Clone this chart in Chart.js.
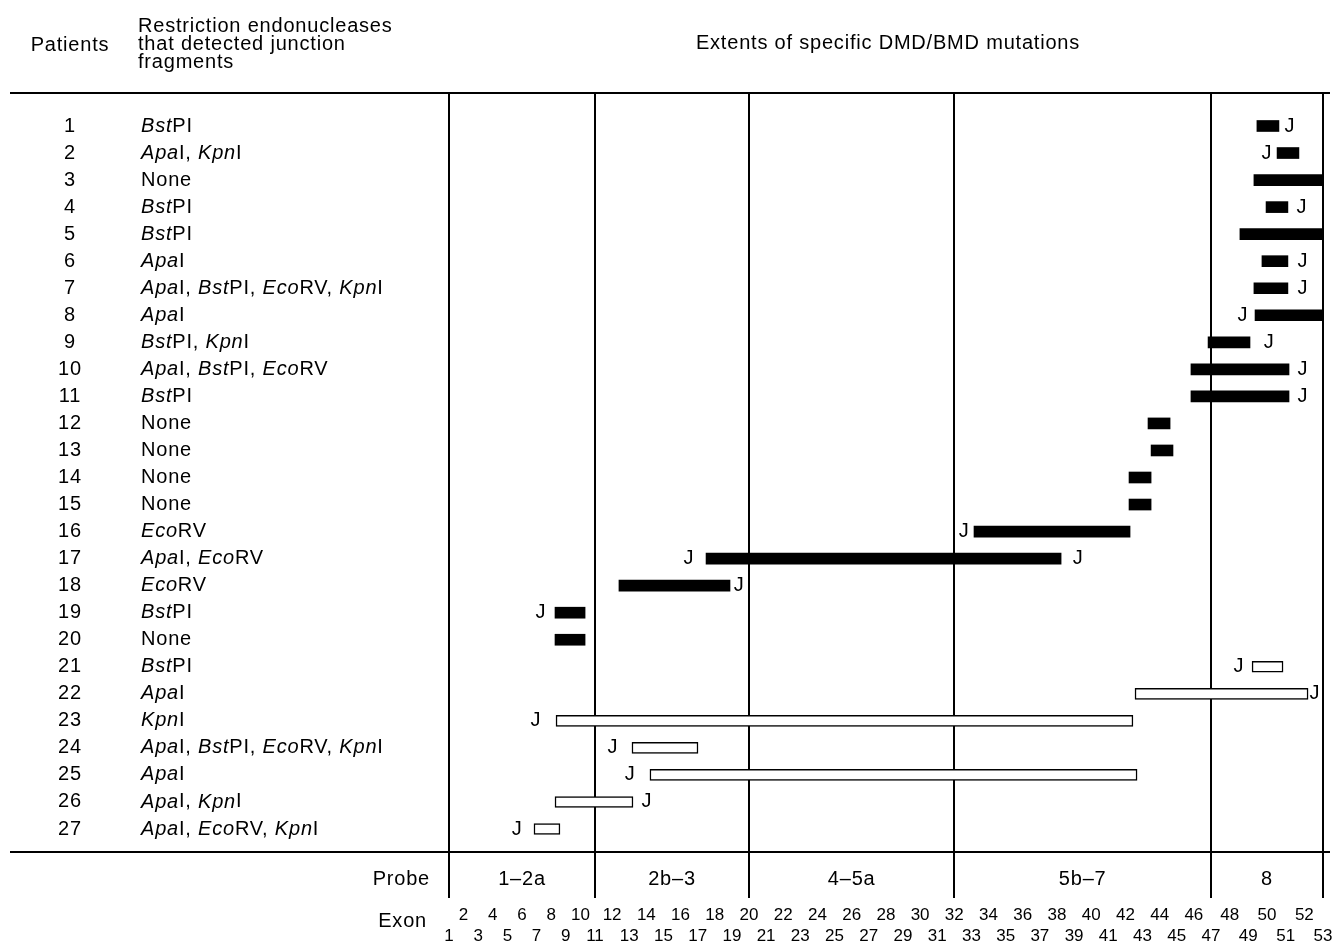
<!DOCTYPE html>
<html>
<head>
<meta charset="utf-8">
<script src="https://cdn.jsdelivr.net/npm/chart.js@4.4.1/dist/chart.umd.min.js"></script>
<style>
  html, body { margin: 0; padding: 0; background: #fff; }
  canvas { display: block; }
</style>
</head>
<body>
<canvas id="chart" width="1340" height="948"></canvas>
<script>
const patients = [1, 2, 3, 4, 5, 6, 7, 8, 9, 10, 11, 12, 13, 14, 15, 16, 17, 18, 19, 20, 21, 22, 23, 24, 25, 26, 27];

// enzymes that detected junction fragments, empty = None
const enzymes = [
    ["BstPI"], ["ApaI", "KpnI"], [], ["BstPI"], ["BstPI"], ["ApaI"],
    ["ApaI", "BstPI", "EcoRV", "KpnI"], ["ApaI"], ["BstPI", "KpnI"],
    ["ApaI", "BstPI", "EcoRV"], ["BstPI"], [], [], [], [], ["EcoRV"],
    ["ApaI", "EcoRV"], ["EcoRV"], ["BstPI"], [], ["BstPI"], ["ApaI"], ["KpnI"],
    ["ApaI", "BstPI", "EcoRV", "KpnI"], ["ApaI"], ["ApaI", "KpnI"], ["ApaI", "EcoRV", "KpnI"]
];

// mutation extents, in exon numbers
const mutationStart = [49.46, 50.54, 49.30, 49.95, 48.55, 49.73, 49.30, 49.36, 46.83, 45.83, 45.83, 43.32, 43.50, 42.21,
    42.21, 33.15, 17.49, 12.40, 8.26, 8.26, 49.20, 42.56, 8.33, 13.16, 14.21, 8.26, 6.82];
const mutationEnd = [50.64, 51.71, 53, 51.12, 53, 51.12, 51.12, 53, 49.09, 51.18, 51.18, 44.61, 44.78, 43.50,
    43.50, 42.27, 38.24, 18.89, 10.32, 10.32, 50.86, 52.20, 42.44, 17.02, 42.68, 13.22, 8.60];

// junction fragment marks (J), in exon numbers
const junctionLeft = [null, 50.0, null, null, null, null, null, 48.71, null, null, null, null, null, null,
    null, 32.57, 16.49, null, 7.30, null, 48.50, null, 6.96, 12.05, 13.05, null, 5.66];
const junctionRight = [51.23, null, null, 51.87, null, 51.93, 51.93, null, 50.11, 51.93, 51.93, null, null, null,
    null, null, 39.23, 19.42, null, null, null, 52.57, null, null, null, 14.04, null];

const barKind = ["filled", "filled", "filled", "filled", "filled", "filled", "filled", "filled", "filled", "filled",
    "filled", "filled", "filled", "filled", "filled", "filled", "filled", "filled", "filled", "filled",
    "open", "open", "open", "open", "open", "open", "open"];

const probes = ["1\u20132a", "2b\u20133", "4\u20135a", "5b\u20137", "8"];
const probeBounds = [1, 11, 20, 32, 47, 53];

const exons = [1, 2, 3, 4, 5, 6, 7, 8, 9, 10, 11, 12, 13, 14, 15, 16, 17, 18, 19, 20, 21, 22, 23, 24, 25, 26, 27,
    28, 29, 30, 31, 32, 33, 34, 35, 36, 37, 38, 39, 40, 41, 42, 43, 44, 45, 46, 47, 48, 49, 50, 51, 52, 53];

const FONT = "'Liberation Sans', Arial, sans-serif";
const INK = "#000";
const TEXT_SIZE = 20;

// the exon axis is not evenly spaced in the figure
const exonKnots = [1, 11, 47, 53];
const exonSpacing = [14.6, 17.11, 18.67];

const exonPos = e => {
    let u = 0;
    for (let k = 0; k < exonSpacing.length; k++) {
        const a = exonKnots[k], b = exonKnots[k + 1];
        if (e <= b || k === exonSpacing.length - 1) return u + (e - a) * exonSpacing[k];
        u += (b - a) * exonSpacing[k];
    }
    return u;
};

class ExonScale extends Chart.LinearScale {
    static id = "exon";
    getPixelForValue(value) {
        const a = exonPos(this.min), b = exonPos(this.max);
        return this.getPixelForDecimal((exonPos(value) - a) / (b - a));
    }
}
Chart.register(ExonScale);

const italicParts = {
    BstPI: ["Bst", "PI"],
    ApaI: ["Apa", "I"],
    KpnI: ["Kpn", "I"],
    EcoRV: ["Eco", "RV"]
};

const drawEnzymes = (ctx, list, x, y) => {
    ctx.textAlign = "left";
    if (!list.length) {
        ctx.font = `${TEXT_SIZE}px ${FONT}`;
        ctx.fillText("None", x, y);
        return;
    }
    list.forEach((name, i) => {
        const [it, rest] = italicParts[name];
        ctx.font = `italic ${TEXT_SIZE}px ${FONT}`;
        ctx.fillText(it, x, y);
        x += ctx.measureText(it).width;
        ctx.font = `${TEXT_SIZE}px ${FONT}`;
        const tail = i < list.length - 1 ? rest + ", " : rest;
        ctx.fillText(tail, x, y);
        x += ctx.measureText(tail).width;
    });
};

const tablePlugin = {
    id: "table",
    afterDraw(chart) {
        const { ctx, chartArea, scales: { x, y } } = chart;
        ctx.save();
        ctx.strokeStyle = INK;
        ctx.lineWidth = 2;
        [chartArea.top, chartArea.bottom].forEach(yy => {
            ctx.beginPath();
            ctx.moveTo(10, yy);
            ctx.lineTo(1330, yy);
            ctx.stroke();
        });

        ctx.fillStyle = INK;
        ctx.textBaseline = "middle";
        ctx.letterSpacing = "0.8px";
        ctx.font = `${TEXT_SIZE}px ${FONT}`;
        ctx.textAlign = "center";
        ctx.fillText("Patients", 70, 45);
        ctx.fillText("Extents of specific DMD/BMD mutations", (chartArea.left + chartArea.right) / 2 + 2, 43);
        ctx.textAlign = "left";
        ["Restriction endonucleases", "that detected junction", "fragments"].forEach((t, i) => {
            ctx.fillText(t, 138, 26 + i * 18);
        });

        patients.forEach((p, i) => {
            const yy = y.getPixelForValue(p);
            ctx.font = `${TEXT_SIZE}px ${FONT}`;
            ctx.textAlign = "center";
            ctx.fillText(String(p), 70, yy);
            drawEnzymes(ctx, enzymes[i], 141, yy);
            ctx.font = `${TEXT_SIZE}px ${FONT}`;
            ctx.textAlign = "center";
            if (junctionLeft[i] !== null) ctx.fillText("J", x.getPixelForValue(junctionLeft[i]), yy);
            if (junctionRight[i] !== null) ctx.fillText("J", x.getPixelForValue(junctionRight[i]), yy);
        });

        const probeY = chartArea.bottom + 27;
        ctx.textAlign = "right";
        ctx.fillText("Probe", 430, probeY);
        ctx.textAlign = "center";
        probes.forEach((pr, k) => {
            const cx = (x.getPixelForValue(probeBounds[k]) + x.getPixelForValue(probeBounds[k + 1])) / 2;
            ctx.fillText(pr, cx, probeY);
        });
        ctx.textAlign = "right";
        ctx.fillText("Exon", 427, 921);
        ctx.restore();
    }
};

new Chart(document.getElementById("chart").getContext("2d"), {
    type: "bar",
    data: {
        datasets: [{
            data: patients.map((p, i) => ({ x: [mutationStart[i], mutationEnd[i]], y: p })),
            backgroundColor: c => barKind[c.dataIndex] === "open" ? "#fff" : INK,
            borderColor: INK,
            borderWidth: c => barKind[c.dataIndex] === "open" ? 1.5 : 0,
            borderSkipped: false,
            barThickness: 11,
            grouped: false
        }]
    },
    options: {
        responsive: false,
        animation: false,
        indexAxis: "y",
        layout: { padding: { left: 449, right: 17, top: 93, bottom: -5 } },
        plugins: { legend: { display: false }, tooltip: { enabled: false } },
        scales: {
            x: {
                type: "exon",
                min: 1,
                max: 53,
                bounds: "data",
                afterBuildTicks: scale => {
                    scale.ticks = exons.map(e => ({ value: e }));
                },
                border: { display: false },
                grid: {
                    color: c => probeBounds.includes(exons[c.index]) ? INK : "rgba(0,0,0,0)",
                    lineWidth: 2,
                    tickLength: 46,
                    drawOnChartArea: true
                },
                ticks: {
                    autoSkip: false,
                    maxRotation: 0,
                    minRotation: 0,
                    padding: 6.5,
                    color: INK,
                    font: { family: FONT, size: 17, lineHeight: 21 / 17 },
                    callback: (v, i) => exons[i] % 2 === 0 ? String(exons[i]) : ["", String(exons[i])]
                }
            },
            y: {
                type: "linear",
                reverse: true,
                offset: false,
                min: -0.22,
                max: 27.85,
                display: false,
                grid: { offset: false }
            }
        }
    },
    plugins: [tablePlugin]
});
</script>
</body>
</html>
